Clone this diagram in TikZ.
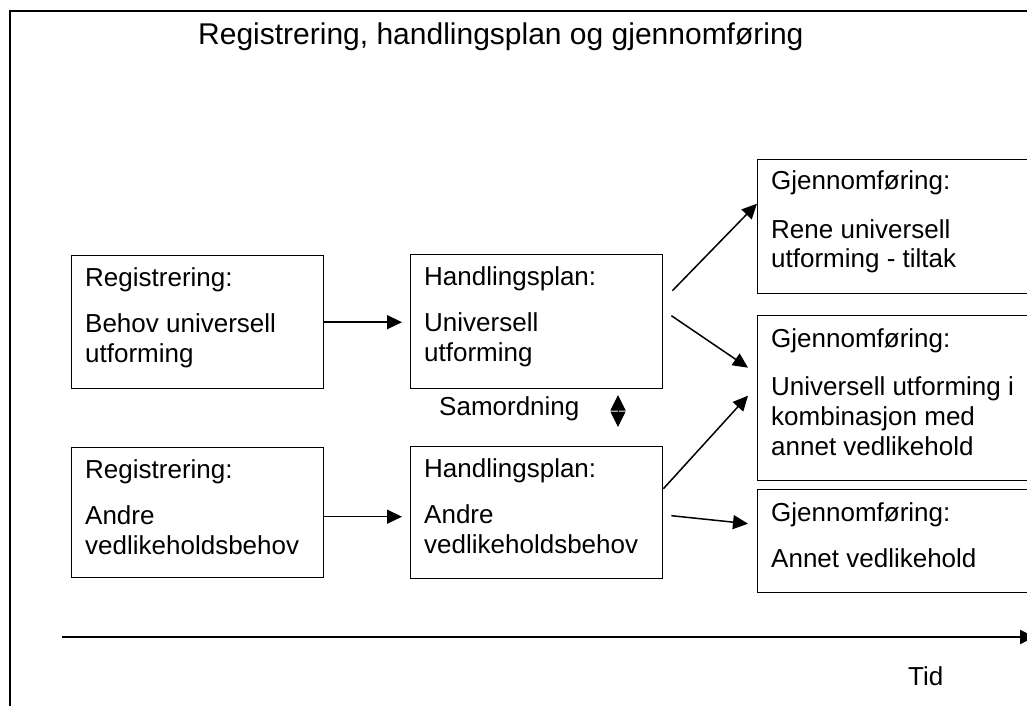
\documentclass[tikz,border=0pt]{standalone}
\usepackage{fontspec}
\setmainfont{Liberation Sans}
\usetikzlibrary{arrows.meta,calc}
\begin{document}
\begin{tikzpicture}[x=1pt,y=-1pt,
  box/.style={draw,line width=1.4pt,rectangle,inner sep=0pt,anchor=north west},
  txt/.style={anchor=base west,inner sep=0pt,font=\fontsize{26}{30}\selectfont},
  arr/.style={line width=1.5pt,-{Triangle[length=15pt,width=14pt]}}]
\clip (0,0) rectangle (1027,706);
\fill[white] (0,0) rectangle (1027,706);
% outer frame
\coordinate (f0) at (10,730);
\coordinate (f1) at (10,11);
\coordinate (f2) at (1050,11);
\draw[line width=1.6pt] (f0) -- (f1) -- (f2);
% title
\node[anchor=base west,inner sep=0pt,font=\fontsize{30}{36}\selectfont] (title) at (198,45) {Registrering, handlingsplan og gjennomføring};
% boxes
\node[box,minimum width=252pt,minimum height=133pt] (r1) at (71,255) {};
\node[box,minimum width=252pt,minimum height=134pt] (h1) at (410,254) {};
\node[box,minimum width=252pt,minimum height=130pt] (r2) at (71,447) {};
\node[box,minimum width=252pt,minimum height=132pt] (h2) at (410,446) {};
\node[box,minimum width=320pt,minimum height=134pt] (g1) at (757,159) {};
\node[box,minimum width=320pt,minimum height=165pt] (g2) at (757,315) {};
\node[box,minimum width=320pt,minimum height=103pt] (g3) at (757,489) {};
% texts
\node[txt] (r1a) at (85,286) {Registrering:};
\node[txt] (r1b) at (85,332) {Behov universell};
\node[txt] (r1c) at (85,362) {utforming};
\node[txt] (h1a) at (424,285) {Handlingsplan:};
\node[txt] (h1b) at (424,331) {Universell};
\node[txt] (h1c) at (424,361) {utforming};
\node[txt] (r2a) at (85,478) {Registrering:};
\node[txt] (r2b) at (85,524) {Andre};
\node[txt] (r2c) at (85,554) {vedlikeholdsbehov};
\node[txt] (h2a) at (424,477) {Handlingsplan:};
\node[txt] (h2b) at (424,523) {Andre};
\node[txt] (h2c) at (424,553) {vedlikeholdsbehov};
\node[txt] (g1a) at (771,189) {Gjennomføring:};
\node[txt] (g1b) at (771,238) {Rene universell};
\node[txt] (g1c) at (771,267) {utforming - tiltak};
\node[txt] (g2a) at (771,347) {Gjennomføring:};
\node[txt] (g2b) at (771,395) {Universell utforming i};
\node[txt] (g2c) at (771,425) {kombinasjon med};
\node[txt] (g2d) at (771,455) {annet vedlikehold};
\node[txt] (g3a) at (771,521) {Gjennomføring:};
\node[txt] (g3b) at (771,567) {Annet vedlikehold};
\node[txt] (sam) at (439,415) {Samordning};
\node[txt] (tid) at (908,685) {Tid};
% arrows
\draw[arr,shorten >=8pt] (r1.east) -- (h1.west |- r1.east);
\draw[arr,shorten >=8pt] ($(r2.east)+(0,4)$) -- ($(h2.west)+(0,4)$);
\draw[arr] ($(h1.east)+(9,-31)$) -- ($(g1.west)+(0,-23)$);
\draw[arr] ($(h1.east)+(8,-6)$) -- ($(g2.west)+(-9,-30.5)$);
\draw[arr] ($(h2.east)+(0,-24)$) -- ($(g2.west)+(-9,-2.5)$);
\draw[arr] ($(h2.east)+(8,3)$) -- ($(g3.west)+(-9,-17.5)$);
% samordning double arrow
\coordinate (s1) at (618,427);
\coordinate (s2) at (618,395);
\draw[line width=1pt,{Triangle[length=15.5pt,width=15pt]}-{Triangle[length=15.5pt,width=15pt]}] (s1) -- (s2);
% time axis
\coordinate (t0) at (62,637);
\coordinate (t1) at (1035,637);
\draw[line width=2pt,-{Triangle[length=15pt,width=14pt]}] (t0) -- (t1);
\end{tikzpicture}
\end{document}
